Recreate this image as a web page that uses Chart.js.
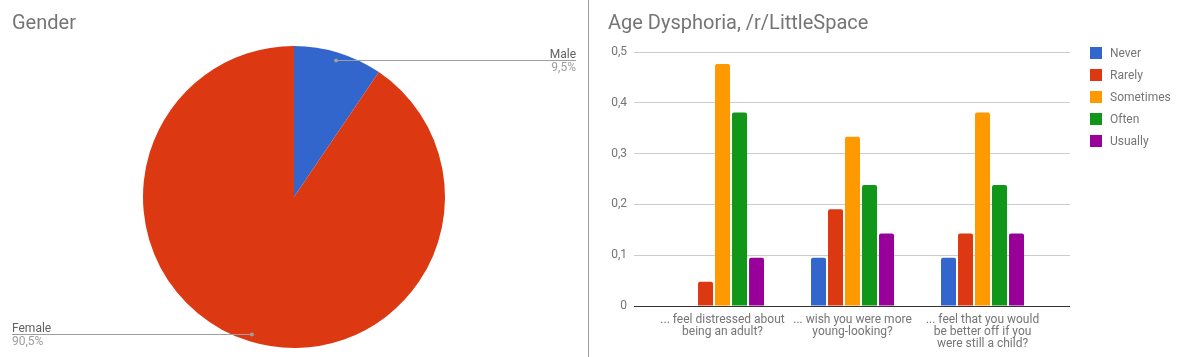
<!DOCTYPE html>
<html>
<head>
<meta charset="utf-8">
<script src="https://cdn.jsdelivr.net/npm/chart.js@4/dist/chart.umd.min.js"></script>
<style>
  html, body { margin: 0; padding: 0; background: #fff; }
  body { width: 1183px; height: 357px; position: relative; overflow: hidden; font-family: Roboto, sans-serif; }
  #leftWrap { position: absolute; left: 0; top: 0; width: 588px; height: 357px; }
  #divider { position: absolute; left: 588px; top: 0; width: 1px; height: 357px; background: #9e9e9e; }
  #rightWrap { position: absolute; left: 590px; top: 0; width: 593px; height: 357px; }
  #legend { position: absolute; left: 1090px; top: 0; margin: 0; padding: 0; list-style: none; }
  #legend li { position: absolute; left: 0; height: 12px; white-space: nowrap; }
  #legend .box { position: absolute; left: 0; top: 0; width: 12px; height: 12px; }
  #legend .txt { position: absolute; left: 20px; top: -1px; font: 12px Roboto, sans-serif; line-height: 14px; color: #757575; }
</style>
</head>
<body>
<div id="leftWrap"><canvas id="pie" width="588" height="357"></canvas></div>
<div id="divider"></div>
<div id="rightWrap"><canvas id="bars" width="593" height="357"></canvas></div>
<ul id="legend"></ul>
<script>
// ---- Data ----
const pieTitle = 'Gender';
const genderLabels = ['Male', 'Female'];
const genderValues = [9.5, 90.5];
const genderColors = ['#3366cc', '#dc3912'];

const barTitle = 'Age Dysphoria, /r/LittleSpace';
const questionLabels = [
  ['... feel distressed about', 'being an adult?'],
  ['... wish you were more', 'young-looking?'],
  ['... feel that you would', 'be better off if you', 'were still a child?']
];
const seriesNames = ['Never', 'Rarely', 'Sometimes', 'Often', 'Usually'];
const seriesColors = ['#3366cc', '#dc3912', '#ff9900', '#109618', '#990099'];
const neverValues = [0, 0.0952, 0.0952];
const rarelyValues = [0.0476, 0.1905, 0.1429];
const sometimesValues = [0.4762, 0.3333, 0.3810];
const oftenValues = [0.3810, 0.2381, 0.2381];
const usuallyValues = [0.0952, 0.1429, 0.1429];
const yTickLabels = ['0', '0,1', '0,2', '0,3', '0,4', '0,5'];

// ---- Setup ----
Chart.defaults.font.family = 'Roboto, sans-serif';
Chart.defaults.color = '#757575';

function fmtPct(v) { return v.toFixed(1).replace('.', ',') + '%'; }

const pieLabelPlugin = {
  id: 'pieLabels',
  afterDatasetsDraw(chart) {
    const ctx = chart.ctx;
    const meta = chart.getDatasetMeta(0);
    meta.data.forEach((arc, i) => {
      const p = arc.getProps(['x', 'y', 'startAngle', 'endAngle', 'outerRadius'], true);
      const mid = (p.startAngle + p.endAngle) / 2;
      const r = p.outerRadius * 0.948;
      const px = p.x + Math.cos(mid) * r;
      const py = Math.round(p.y + Math.sin(mid) * r) + 0.5;
      const right = Math.cos(mid) >= 0;
      const edge = right ? chart.width - 12 : 12;
      ctx.save();
      ctx.strokeStyle = '#9e9e9e';
      ctx.lineWidth = 1;
      ctx.beginPath(); ctx.moveTo(px, py); ctx.lineTo(edge, py); ctx.stroke();
      ctx.fillStyle = '#9e9e9e';
      ctx.beginPath(); ctx.arc(px, py, 2, 0, Math.PI * 2); ctx.fill();
      ctx.textAlign = right ? 'right' : 'left';
      ctx.textBaseline = 'alphabetic';
      ctx.font = '12px Roboto, sans-serif';
      ctx.fillStyle = '#616161';
      ctx.fillText(genderLabels[i], edge, py - 3);
      ctx.fillStyle = '#9e9e9e';
      ctx.fillText(fmtPct(genderValues[i]), edge, py + 10);
      ctx.restore();
    });
  }
};

new Chart(document.getElementById('pie'), {
  type: 'pie',
  data: {
    labels: genderLabels,
    datasets: [{ data: genderValues, backgroundColor: genderColors, borderWidth: 0, hoverOffset: 0, offset: 0 }]
  },
  options: {
    responsive: false,
    animation: false,
    events: [],
    layout: { padding: { left: 12, right: 12, top: 0, bottom: 9 } },
    plugins: {
      legend: { display: false },
      tooltip: { enabled: false },
      title: {
        display: true, text: pieTitle, align: 'start', color: '#757575',
        font: { size: 20, weight: 'normal' }, padding: { top: 12, bottom: 10 }
      }
    }
  },
  plugins: [pieLabelPlugin]
});

const seriesData = [neverValues, rarelyValues, sometimesValues, oftenValues, usuallyValues];

const barChart = new Chart(document.getElementById('bars'), {
  type: 'bar',
  data: {
    datasets: seriesNames.map((name, s) => ({
      label: name,
      data: seriesData[s].map((v, i) => ({ x: i, y: v })),
      backgroundColor: seriesColors[s],
      borderWidth: 0,
      borderRadius: 2,
      categoryPercentage: 0.654,
      barPercentage: 0.882
    }))
  },
  options: {
    responsive: false,
    animation: false,
    events: [],
    layout: { padding: { left: 18, right: 113, top: 0, bottom: 0 } },
    plugins: {
      legend: { display: false },
      tooltip: { enabled: false },
      title: {
        display: true, text: barTitle, align: 'start', color: '#757575',
        font: { size: 20, weight: 'normal' }, padding: { top: 12, bottom: 16 }
      }
    },
    scales: {
      x: {
        type: 'linear',
        offset: false,
        min: -0.681,
        max: 2.673,
        grid: { display: false },
        border: { display: false },
        afterBuildTicks(scale) { scale.ticks = questionLabels.map((_, i) => ({ value: i })); },
        afterFit(scale) { scale.height = 51; },
        ticks: {
          autoSkip: false, maxRotation: 0, minRotation: 0, padding: 0,
          color: '#757575', font: { size: 12, lineHeight: 1.0 },
          callback: (value) => questionLabels[value]
        }
      },
      y: {
        min: 0,
        max: 0.5,
        border: { display: false },
        afterFit(scale) { scale.width = 26; },
        grid: {
          drawTicks: false,
          color: (c) => (c.tick && c.tick.value === 0 ? '#333333' : '#cccccc'),
          lineWidth: 1
        },
        ticks: {
          stepSize: 0.1, padding: 7, color: '#757575', font: { size: 12 },
          callback: (value, index) => yTickLabels[index]
        }
      }
    }
  }
});

// HTML legend built from the chart's own legend items
const legendEl = document.getElementById('legend');
const items = Chart.defaults.plugins.legend.labels.generateLabels(barChart);
items.forEach((it, i) => {
  const li = document.createElement('li');
  li.style.top = (46.5 + i * 22) + 'px';
  const box = document.createElement('span');
  box.className = 'box';
  box.style.background = it.fillStyle;
  const txt = document.createElement('span');
  txt.className = 'txt';
  txt.textContent = it.text;
  li.appendChild(box); li.appendChild(txt);
  legendEl.appendChild(li);
});
</script>
</body>
</html>
